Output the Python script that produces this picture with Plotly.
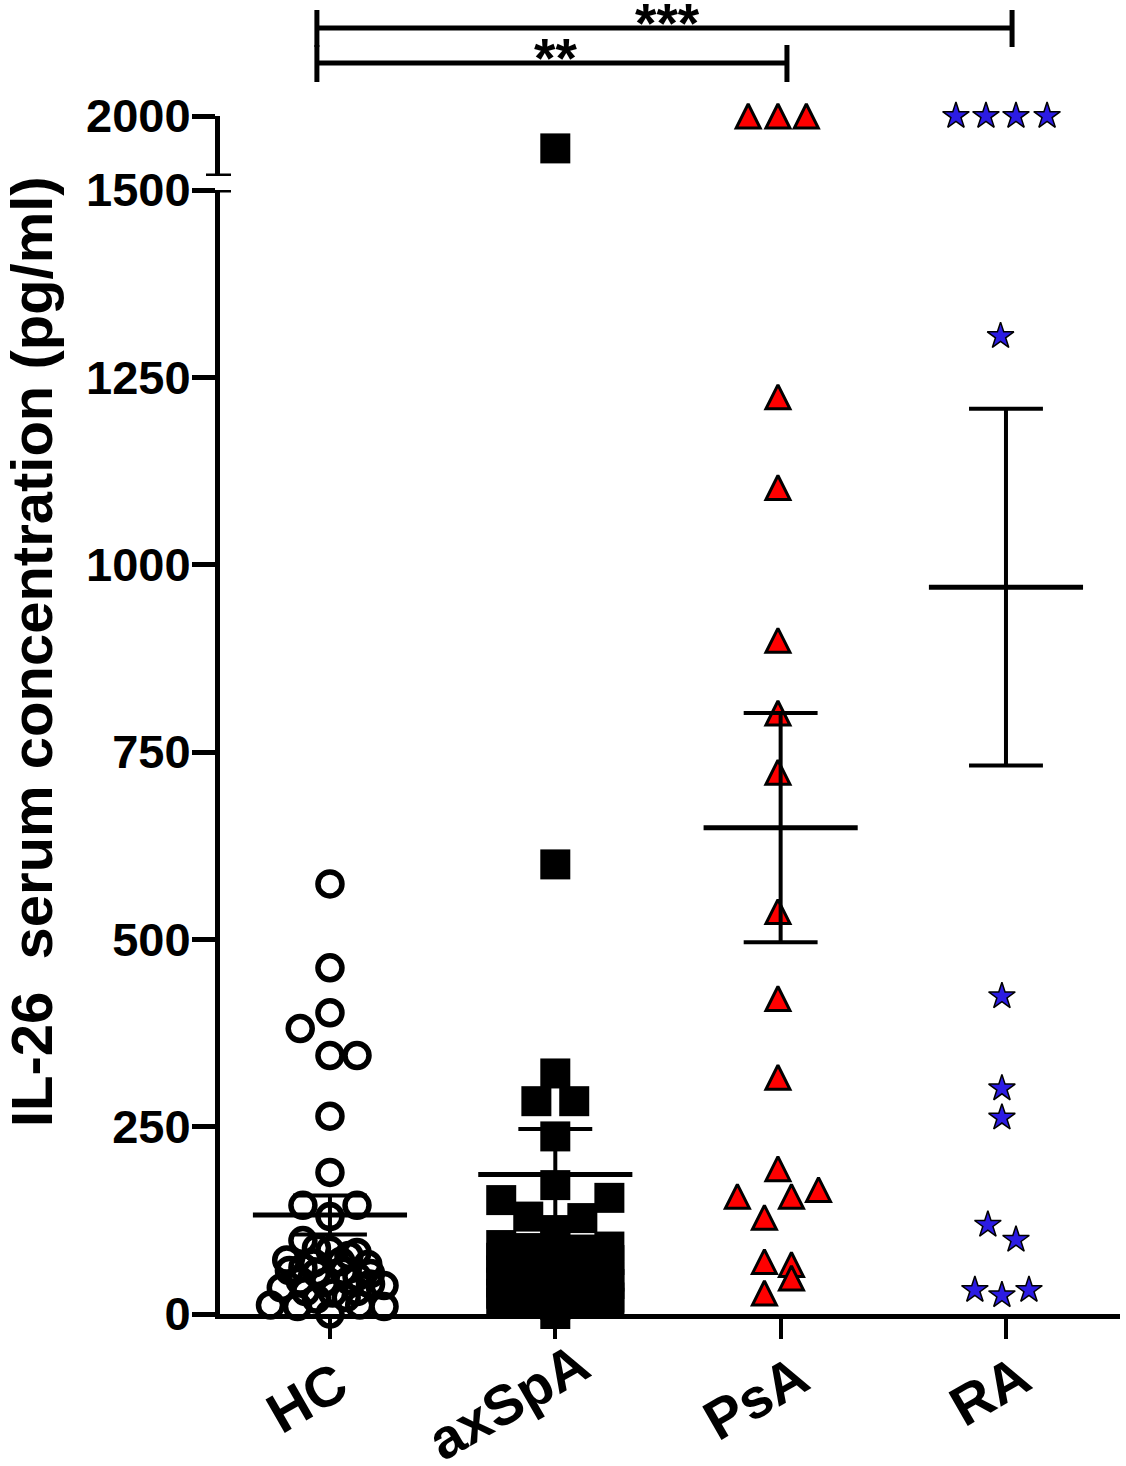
import plotly.graph_objects as go

# ---------------- data ----------------
categories = ["HC", "axSpA", "PsA", "RA"]

hc_values = [574, 462, 402, 381, 345, 345, 264, 189, 145, 145, 130, 98,
             85, 82, 72, 68, 70, 66, 58, 55, 57, 54, 44, 42, 45, 40,
             30, 28, 30, 12, 10, 12, 10, 0,
             88, 78, 62, 50, 35, 20, 22, 38]
hc_jitter = [0, 0, 0, -1.1, 0, 1.0, 0, 0, -1.0, 1.0, 0, -1.0,
             0, 1.0, -1.6, -0.6, 0.4, 1.4, -1.5, -0.5, 0.5, 1.5, -1.1, -0.2, 0.7, 1.5,
             -0.9, 0.1, 1.0, -2.2, -1.2, 1.1, 2.0, 0,
             -0.5, 0.7, -1.0, 1.0, -1.8, -0.5, 0.6, 2.0]

axspa_values = [1730, 600, 321, 284, 284, 237, 172, 152, 155, 130, 128, 112,
                92, 88, 95, 86, 90,
                75, 72, 70, 68, 72,
                58, 55, 52, 56, 50,
                42, 40, 38, 42, 40,
                27, 25, 24, 26, 22,
                15, 14, 12, 14, 15,
                0]
axspa_jitter = [0, 0, 0, -0.7, 0.7, 0, 0, -2, 2, -1, 1, 0,
                -2, -1, 0, 1, 2,
                -2, -1, 0, 1, 2,
                -2, -1, 0, 1, 2,
                -2, -1, 0, 1, 2,
                -2, -1, 0, 1, 2,
                -2, -1, 0, 1, 2,
                0]

psa_values = [2000, 2000, 2000, 1224, 1103, 899, 802, 723, 537, 421, 316,
              194, 157, 157, 166, 129, 70, 66, 48, 28]
psa_jitter = [-1.2, -0.1, 0.95, -0.1, -0.1, -0.1, -0.1, -0.1, -0.1, -0.1, -0.1,
              -0.1, -1.6, 0.4, 1.4, -0.6, -0.6, 0.4, 0.4, -0.6]

ra_values = [2000, 2000, 2000, 2000, 1305, 424, 301, 262, 119, 99, 32, 25, 32]
ra_jitter = [-1.85, -0.74, 0.37, 1.52, -0.2, -0.15, -0.15, -0.15,
             -0.67, 0.37, -1.15, -0.15, 0.85]

group_means = [132, 186, 649, 970]
group_sems = [26, 61, 153, 238]

y_tick_values = [0, 250, 500, 750, 1000, 1250, 1500]
upper_tick_values = [2000]

sig_pairs = [(0, 2, "**"), (0, 3, "***")]

# ---------------- styling ----------------
FONT = "Liberation Sans, Arial, Helvetica, sans-serif"
STEP = 0.12          # horizontal spacing of scattered points (category units)
BREAK = 1500         # axis break
MEAN_HALF = 0.342
CAP_HALF = 0.164

groups = [
    (hc_values, hc_jitter, dict(symbol="circle-open", size=24, color="black",
                                line=dict(color="black", width=5.5))),
    (axspa_values, axspa_jitter, dict(symbol="square", size=30, color="black",
                                      line=dict(color="black", width=0))),
    (psa_values, psa_jitter, dict(symbol="arrow-down", angle=180, standoff=12, size=24,
                                  color="#FF0000", line=dict(color="black", width=3))),
    (ra_values, ra_jitter, dict(symbol="star", size=20, color="#2C1CE3",
                                line=dict(color="black", width=1.5))),
]

fig = go.Figure()

for i, (vals, jit, mk) in enumerate(groups):
    lo_x, lo_y, hi_x, hi_y = [], [], [], []
    for v, j in zip(vals, jit):
        x = i + j * STEP
        if v > BREAK:
            hi_x.append(x); hi_y.append(v)
        else:
            lo_x.append(x); lo_y.append(v)
    fig.add_trace(go.Scatter(x=lo_x, y=lo_y, mode="markers", marker=mk,
                             cliponaxis=False, hoverinfo="y", yaxis="y"))
    if hi_x:
        fig.add_trace(go.Scatter(x=hi_x, y=hi_y, mode="markers", marker=mk,
                                 cliponaxis=False, hoverinfo="y", yaxis="y2"))

# mean and SEM lines
mx, my = [], []
sx, sy = [], []
for i, (m, s) in enumerate(zip(group_means, group_sems)):
    mx += [i - MEAN_HALF, i + MEAN_HALF, None]
    my += [m, m, None]
    sx += [i, i, None, i - CAP_HALF, i + CAP_HALF, None, i - CAP_HALF, i + CAP_HALF, None]
    sy += [m - s, m + s, None, m + s, m + s, None, m - s, m - s, None]
fig.add_trace(go.Scatter(x=sx, y=sy, mode="lines", line=dict(color="black", width=4),
                         cliponaxis=False, hoverinfo="skip"))
fig.add_trace(go.Scatter(x=mx, y=my, mode="lines", line=dict(color="black", width=5),
                         cliponaxis=False, hoverinfo="skip"))

# ---------------- layout ----------------
ML, MR, MT, MB = 220, 6, 116, 152
W, H = 1126, 1466
PLOT_BOTTOM_PX = H - MB
PLOT_H = H - MB - MT
PLOT_W = W - ML - MR


def ypaper(px):
    return (PLOT_BOTTOM_PX - px) / PLOT_H


def xpaper(px):
    return (px - ML) / PLOT_W


axis_common = dict(showline=True, linewidth=5, linecolor="black", showgrid=False,
                   zeroline=False, ticks="outside", tickcolor="black", automargin=False)

yfont = dict(family=FONT, size=47, color="black", weight="bold")

fig.update_layout(
    width=W, height=H,
    margin=dict(l=ML, r=MR, t=MT, b=MB, autoexpand=False),
    plot_bgcolor="white", paper_bgcolor="white",
    showlegend=False,
    font=dict(family=FONT, color="black"),
    xaxis=dict(range=[-0.488, 3.506], tickmode="array", tickvals=[0, 1, 2, 3],
               ticktext=categories, showticklabels=False, ticklen=20, tickwidth=4,
               anchor="y", **axis_common),
    yaxis=dict(domain=[0, ypaper(190)], range=[0, BREAK], tickmode="array",
               tickvals=y_tick_values, ticktext=[str(v) for v in y_tick_values],
               ticklen=23, tickwidth=5, ticklabelstandoff=-8, tickfont=yfont,
               anchor="x", **axis_common),
    yaxis2=dict(domain=[ypaper(176), 1], range=[BREAK, 2000], tickmode="array",
                tickvals=upper_tick_values, ticktext=[str(v) for v in upper_tick_values],
                ticklen=23, tickwidth=5, ticklabelstandoff=-8, tickfont=yfont,
                anchor="x", **axis_common),
)

# category labels (rotated), centred below each tick
label_centres_px = [(-23, 1397), (-47, 1401), (-25, 1397), (-16, 1390)]
for i, (name, (dx, cy)) in enumerate(zip(categories, label_centres_px)):
    fig.add_annotation(x=i, xref="x", xshift=dx, y=ypaper(cy), yref="paper",
                       text=name, textangle=-30, showarrow=False,
                       xanchor="center", yanchor="middle",
                       font=dict(family=FONT, size=56, color="black", weight="bold"))

# axis break marks
for yref in ("y", "y2"):
    fig.add_shape(type="line", xref="paper", yref=yref,
                  x0=xpaper(206), x1=xpaper(231), y0=BREAK, y1=BREAK,
                  line=dict(color="black", width=5))

# significance brackets
bar_px = {(0, 2): 63, (0, 3): 28}
end_x = {0: -0.058, 2: 2.028, 3: 3.027}
for a, b, label in sig_pairs:
    yb = bar_px[(a, b)]
    yt, ybot, ym = ypaper(yb - 18), ypaper(yb + 19), ypaper(yb)
    xa, xb = end_x[a], end_x[b]
    path = (f"M {xa},{yt} L {xa},{ybot} M {xa},{ym} L {xb},{ym} "
            f"M {xb},{yt} L {xb},{ybot}")
    fig.add_shape(type="path", xref="x", yref="paper", path=path,
                  line=dict(color="black", width=5))
    fig.add_annotation(x=(xa + xb) / 2 + 0.015, xref="x",
                       y=ypaper(yb - 5), yref="paper", text=label, showarrow=False,
                       xanchor="center", yanchor="middle",
                       font=dict(family=FONT, size=55, color="black", weight="bold"))

# y-axis title
fig.add_annotation(x=xpaper(31), xref="paper", y=ypaper(652), yref="paper",
                   text="IL-26\u00a0 serum concentration (pg/ml)", textangle=-90,
                   showarrow=False, xanchor="center", yanchor="middle",
                   font=dict(family=FONT, size=58, color="black", weight="bold"))

fig.write_html("out.html", config={"displayModeBar": False},
               post_script="document.body.style.margin='0px';"
                           "document.body.style.overflow='hidden';")
